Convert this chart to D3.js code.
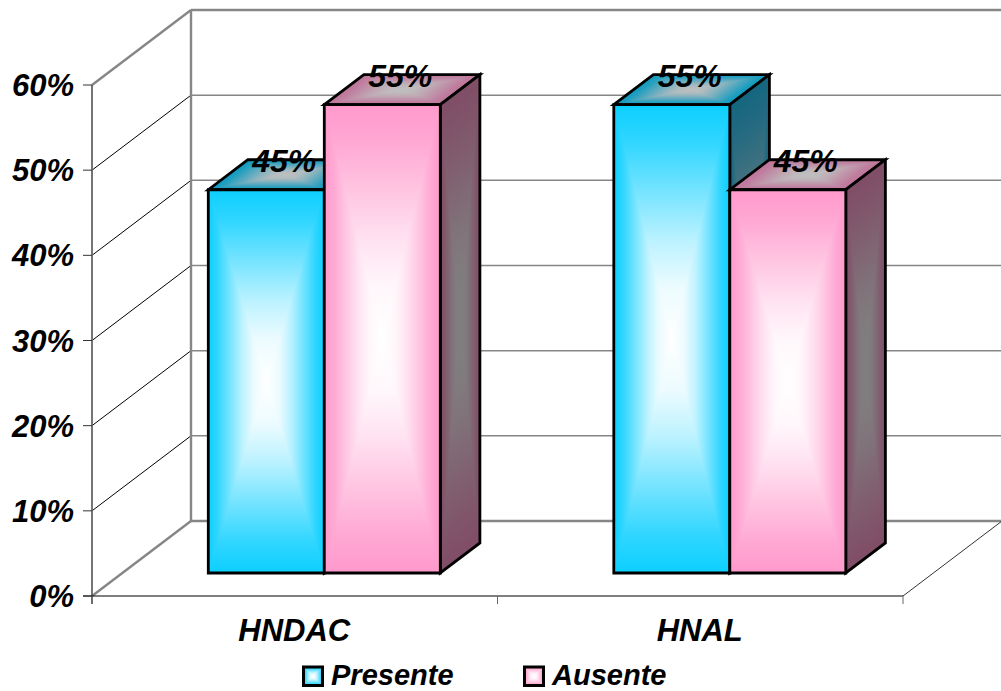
<!DOCTYPE html>
<html>
<head>
<meta charset="utf-8">
<style>
    body { margin: 0; background: white; }
    svg { display: block; }
    text { font-family: "Liberation Sans", Arial, sans-serif; font-weight: bold; font-style: italic; fill: black; }
</style>
</head>
<body>
    <svg width="1001" height="691"></svg>
    <script src="https://d3js.org/d3.v7.min.js"></script>
    <script>
        const categories = ["HNDAC", "HNAL"];
        const seriesNames = ["Presente", "Ausente"];
        const presente = [45, 55];
        const ausente = [55, 45];
        const yTicks = [0, 10, 20, 30, 40, 50, 60];

        const seriesValues = [presente, ausente];
        // edge colour / centre colour for each shading of a bar
        const seriesShades = [
            { front: ["#0ccfff", "#ffffff"], top: ["#0a99bf", "#bfbfbf"], side: ["#146680", "#808080"] },
            { front: ["#ff99cc", "#ffffff"], top: ["#bf7399", "#bfbfbf"], side: ["#804d66", "#808080"] }
        ];
        // how far the colour has moved to the centre colour, edge to centre of a face
        const gradOffsets = [0, 0.08, 0.18, 0.29, 0.39, 0.5];
        const gradMix = [0, 0.15, 0.42, 0.72, 0.92, 1];

        const svg = d3.select("svg");
        const defs = svg.append("defs");

        const x = d3.scaleBand().domain(categories).range([92, 903]);
        const y = d3.scaleLinear().domain([0, 60]).range([596, 85]);
        const barX = d3.scaleBand().domain(d3.range(seriesNames.length)).range([85.9, 317.9]);

        // depth axis: 0 is the front of the box, 1 the back wall
        const depthX = d3.scaleLinear().domain([0, 1]).range([0, 99]);
        const depthY = d3.scaleLinear().domain([0, 1]).range([0, -75]);
        const barDepth = [0.307, 0.707];

        const px = (xv, v, d) => [xv + depthX(d), y(v) + depthY(d)];
        const line = d3.line();

        function makeGradients(id, colors) {
            const mix = d3.interpolateRgb(colors[0], colors[1]);
            [["h", 1, 0], ["v", 0, 1]].forEach(([dir, dx, dy]) => {
                const g = defs.append("linearGradient")
                    .attr("id", id + dir)
                    .attr("gradientUnits", "userSpaceOnUse")
                    .attr("x1", 0).attr("y1", 0).attr("x2", dx).attr("y2", dy);
                gradOffsets.forEach((o, i) => {
                    g.append("stop").attr("offset", o).attr("stop-color", mix(gradMix[i]));
                });
                gradOffsets.slice().reverse().forEach((o, i) => {
                    g.append("stop").attr("offset", 1 - o).attr("stop-color", mix(gradMix[gradMix.length - 1 - i]));
                });
            });
        }

        seriesShades.forEach((s, i) => {
            makeGradients("f" + i, s.front);
            makeGradients("t" + i, s.top);
            makeGradients("s" + i, s.side);
        });

        // rectangular "from centre" fill: four triangles in a unit square mapped on the face
        // corners = top left, top right, bottom left, bottom right
        function face(parent, c, gradId, sw) {
            const tl = c[0], tr = c[1], bl = c[2], br = c[3];
            const g = parent.append("g")
                .attr("transform", `matrix(${tr[0] - tl[0]},${tr[1] - tl[1]},${bl[0] - tl[0]},${bl[1] - tl[1]},${tl[0]},${tl[1]})`);
            const tris = [
                [[0, 0], [1, 0], [.5, .5], "v"],
                [[0, 1], [1, 1], [.5, .5], "v"],
                [[0, 0], [0, 1], [.5, .5], "h"],
                [[1, 0], [1, 1], [.5, .5], "h"]
            ];
            g.selectAll("path").data(tris).enter().append("path")
                .attr("d", d => line(d.slice(0, 3)) + "Z")
                .attr("fill", d => `url(#${gradId}${d[3]})`)
                .attr("shape-rendering", "crispEdges");
            parent.append("path")
                .attr("d", line([tl, tr, br, bl]) + "Z")
                .attr("fill", "none")
                .attr("stroke", "black")
                .attr("stroke-width", sw)
                .attr("stroke-linejoin", "miter");
        }

        const walls = svg.append("g");
        const gray = "#868686";

        // back wall gridlines and side wall lines
        yTicks.forEach(t => {
            const edge = t === 0 || t === 60;
            const a = px(92, t, 1), b = px(1001 - 99, t, 1);
            walls.append("line").attr("x1", a[0]).attr("y1", a[1]).attr("x2", b[0]).attr("y2", b[1])
                .attr("stroke", gray).attr("stroke-width", edge ? 2.4 : 1.5);
            const f = px(92, t, 0);
            walls.append("line").attr("x1", f[0]).attr("y1", f[1]).attr("x2", a[0]).attr("y2", a[1])
                .attr("stroke", edge ? gray : "black").attr("stroke-width", edge ? 2.4 : 1);
        });
        const wallTop = px(92, 60, 1), wallBottom = px(92, 0, 1);
        walls.append("line").attr("x1", wallTop[0]).attr("y1", wallTop[1]).attr("x2", wallBottom[0]).attr("y2", wallBottom[1])
            .attr("stroke", gray).attr("stroke-width", 2.4);

        // floor right edge
        const fr0 = px(903, 0, 0), fr1 = px(903, 0, 1);
        walls.append("line").attr("x1", fr0[0]).attr("y1", fr0[1]).attr("x2", fr1[0]).attr("y2", fr1[1])
            .attr("stroke", "#333333").attr("stroke-width", 1);

        // axes
        const axisG = svg.append("g");
        axisG.append("line").attr("x1", 92).attr("x2", 92).attr("y1", y(60)).attr("y2", 604)
            .attr("stroke", "#666666").attr("stroke-width", 1.8);
        axisG.append("line").attr("x1", 83).attr("x2", 903).attr("y1", y(0)).attr("y2", y(0))
            .attr("stroke", "black").attr("stroke-width", 1.2);
        axisG.selectAll(".ytick").data(yTicks).enter().append("line")
            .attr("class", "ytick")
            .attr("x1", 83).attr("x2", 92)
            .attr("y1", d => y(d)).attr("y2", d => y(d))
            .attr("stroke", "#333333").attr("stroke-width", 1);
        axisG.selectAll(".xtick").data([92, x(categories[1]), 903]).enter().append("line")
            .attr("class", "xtick")
            .attr("x1", d => d).attr("x2", d => d)
            .attr("y1", y(0)).attr("y2", 604)
            .attr("stroke", "#666666").attr("stroke-width", 1);

        axisG.selectAll(".ylabel").data(yTicks).enter().append("text")
            .attr("class", "ylabel")
            .attr("x", 74)
            .attr("y", d => y(d) + 11)
            .attr("text-anchor", "end")
            .attr("font-size", 31)
            .text(d => d + "%");

        axisG.selectAll(".xlabel").data(categories).enter().append("text")
            .attr("class", "xlabel")
            .attr("x", d => x(d) + x.bandwidth() / 2 - 0.5)
            .attr("y", 641)
            .attr("text-anchor", "middle")
            .attr("font-size", 31)
            .text(d => d);

        // bars
        const bars = svg.append("g");
        const labels = [];
        categories.forEach((cat, ci) => {
            seriesNames.forEach((name, si) => {
                const v = seriesValues[si][ci];
                const x0 = x(cat) + barX(si), x1 = x0 + barX.bandwidth();
                const d0 = barDepth[0], d1 = barDepth[1];
                const g = bars.append("g");
                face(g, [px(x0, v, d1), px(x1, v, d1), px(x0, v, d0), px(x1, v, d0)], "t" + si, 2.8);
                face(g, [px(x1, v, d0), px(x1, v, d1), px(x1, 0, d0), px(x1, 0, d1)], "s" + si, 2.8);
                face(g, [px(x0, v, d0), px(x1, v, d0), px(x0, 0, d0), px(x1, 0, d0)], "f" + si, 2.8);
                const p = px((x0 + x1) / 2, v, d0);
                labels.push({ x: p[0] + 18, y: p[1] - 18, text: v + "%" });
            });
        });

        svg.append("g").selectAll("text").data(labels).enter().append("text")
            .attr("x", d => d.x)
            .attr("y", d => d.y)
            .attr("text-anchor", "middle")
            .attr("font-size", 32)
            .text(d => d.text);

        // legend
        const legendX = d3.scaleOrdinal().domain(seriesNames).range([303.5, 524.5]);
        seriesNames.forEach((name, si) => {
            const lx = legendX(name);
            const g = svg.append("g");
            face(g, [[lx, 667], [lx + 19, 667], [lx, 685.5], [lx + 19, 685.5]], "f" + si, 3);
            g.append("text")
                .attr("x", lx + 27.5)
                .attr("y", 685)
                .attr("font-size", 29)
                .text(name);
        });
    </script>
</body>
</html>
